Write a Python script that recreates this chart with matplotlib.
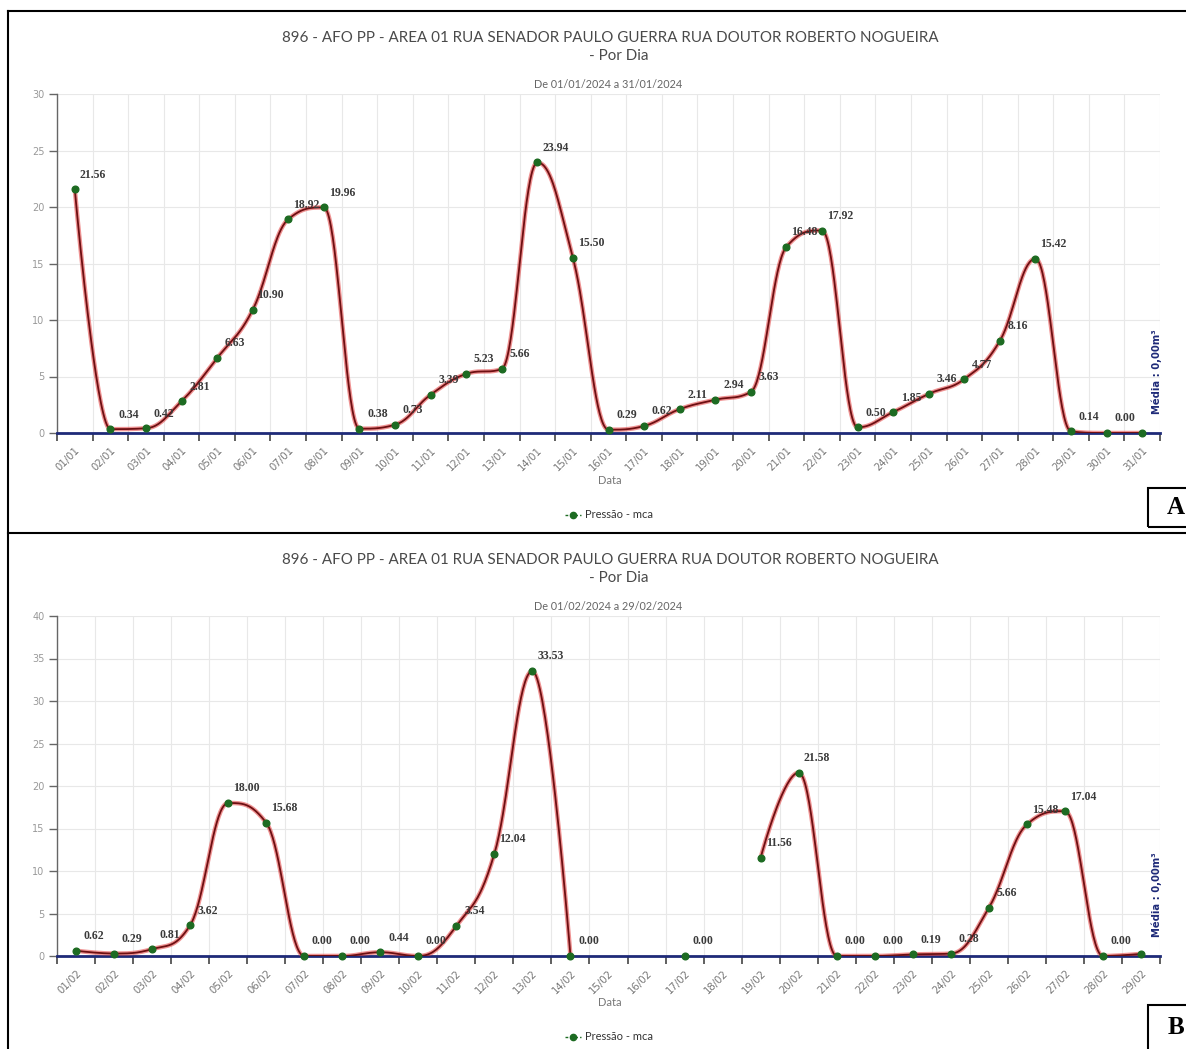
import numpy as np
import matplotlib.pyplot as plt
from matplotlib.patches import Rectangle
from matplotlib.lines import Line2D

W, H = 1186, 1049

title_text = "896 - AFO PP - AREA 01 RUA SENADOR PAULO GUERRA RUA DOUTOR ROBERTO NOGUEIRA"

jan_days = ["%02d/01" % d for d in range(1, 32)]
jan_pressure = [21.56, 0.34, 0.42, 2.81, 6.63, 10.90, 18.92, 19.96, 0.38, 0.73,
                3.39, 5.23, 5.66, 23.94, 15.50, 0.29, 0.62, 2.11, 2.94, 3.63,
                16.48, 17.92, 0.50, 1.85, 3.46, 4.77, 8.16, 15.42, 0.14, 0.00, 0.00]

feb_days = ["%02d/02" % d for d in range(1, 30)]
feb_pressure = [0.62, 0.29, 0.81, 3.62, 18.00, 15.68, 0.00, 0.00, 0.44, 0.00,
                3.54, 12.04, 33.53, 0.00, None, None, 0.00, None, 11.56, 21.58,
                0.00, 0.00, 0.19, 0.28, 5.66, 15.48, 17.04, 0.00, 0.25]

RED_DARK = "#6e0f12"
RED_GLOW = "#e23b3b"
GREEN = "#1d6b22"
NAVY = "#1e2a78"


def fx(px):
    return px / W


def fy(py):
    return 1 - py / H


def spline_run(xs, ys, n=40):
    # highcharts-like spline (smoothing 1.5)
    s = 1.5
    den = s + 1
    N = len(xs)
    left = [None] * N
    right = [None] * N
    for i in range(1, N - 1):
        lx, ly = xs[i - 1], ys[i - 1]
        x, y = xs[i], ys[i]
        nx, ny = xs[i + 1], ys[i + 1]
        lcx = (s * x + lx) / den
        lcy = (s * y + ly) / den
        rcx = (s * x + nx) / den
        rcy = (s * y + ny) / den
        corr = ((rcy - lcy) * (rcx - x)) / (rcx - lcx) + y - rcy
        lcy += corr
        rcy += corr
        if lcy > ly and lcy > y:
            lcy = max(ly, y)
            rcy = 2 * y - lcy
        elif lcy < ly and lcy < y:
            lcy = min(ly, y)
            rcy = 2 * y - lcy
        if rcy > ny and rcy > y:
            rcy = max(ny, y)
            lcy = 2 * y - rcy
        elif rcy < ny and rcy < y:
            rcy = min(ny, y)
            lcy = 2 * y - rcy
        left[i] = (lcx, lcy)
        right[i] = (rcx, rcy)
    px, py = [xs[0]], [ys[0]]
    t = np.linspace(0, 1, n)[1:]
    for i in range(1, N):
        p0 = (xs[i - 1], ys[i - 1])
        p3 = (xs[i], ys[i])
        p1 = right[i - 1] or p0
        p2 = left[i] or p3
        bx = (1 - t) ** 3 * p0[0] + 3 * (1 - t) ** 2 * t * p1[0] + 3 * (1 - t) * t ** 2 * p2[0] + t ** 3 * p3[0]
        by = (1 - t) ** 3 * p0[1] + 3 * (1 - t) ** 2 * t * p1[1] + 3 * (1 - t) * t ** 2 * p2[1] + t ** 3 * p3[1]
        px.extend(bx)
        py.extend(by)
    return px, py


def draw_panel(top, labels, values, ymax, subtitle):
    n = len(labels)
    # plot area in pixels: x 57..1160, y top..bottom
    x0, x1 = 57, 1160
    y_top = top + 94
    y_bot = top + 433 if ymax == 30 else top + 434
    ax = fig.add_axes([fx(x0), fy(y_bot), (x1 - x0) / W, (y_bot - y_top) / H])
    ax.set_xlim(0, n)
    ax.set_ylim(0, ymax)
    for sp in ["top", "right", "bottom"]:
        ax.spines[sp].set_visible(False)
    ax.spines["left"].set_color("#666666")
    ax.spines["left"].set_linewidth(1)

    ax.set_yticks(np.arange(0, ymax + 1, 5))
    ax.tick_params(axis="y", length=6, width=1, color="#666666",
                   labelsize=7, labelcolor="#999999", pad=3)
    ax.set_xticks(np.arange(0, n + 1))
    ax.set_xticklabels([])
    ax.tick_params(axis="x", which="major", length=6, width=1.2, color="#444444")
    ax.set_xticks(np.arange(n) + 0.5, minor=True)
    ax.set_xticklabels(labels, minor=True, rotation=45, ha="right", va="top",
                       rotation_mode="anchor", fontsize=7.3, color="#777777")
    ax.tick_params(axis="x", which="minor", length=0, pad=9)
    ax.grid(True, which="major", color="#e8e8e8", lw=0.8)
    ax.set_axisbelow(True)

    ax.axhline(0, color=NAVY, lw=2, zorder=3, clip_on=False)

    # split into runs of non-null values
    runs = []
    cur = []
    for i, v in enumerate(values):
        if v is None:
            if cur:
                runs.append(cur)
            cur = []
        else:
            cur.append(i)
    if cur:
        runs.append(cur)
    for r in runs:
        xs = [i + 0.5 for i in r]
        ys = [values[i] for i in r]
        if len(r) > 1:
            sx, sy = spline_run(xs, ys)
            ax.plot(sx, sy, color=RED_GLOW, lw=3.2, alpha=0.55, zorder=4,
                    solid_capstyle="round")
            ax.plot(sx, sy, color=RED_DARK, lw=1.3, zorder=5)
        ax.plot(xs, ys, "o", color=GREEN, ms=4.8, zorder=6, clip_on=False)

    # data labels (last one hidden behind the plot line label)
    for i, v in enumerate(values[:-1]):
        if v is None:
            continue
        ax.annotate("%.2f" % v, (i + 0.5, v), xytext=(13, 10.5),
                    textcoords="offset points", ha="center", va="center",
                    fontsize=8.5, fontweight="bold", color="#3a3a3a",
                    family=["Liberation Serif", "DejaVu Serif"], zorder=7)

    ax.annotate("Média : 0,00m³", (1, 0), xycoords="axes fraction",
                xytext=(-2, 14), textcoords="offset points", rotation=90,
                ha="center", va="bottom", fontsize=7.2, fontweight="bold",
                color=NAVY)

    fam = ["Lato", "DejaVu Sans"]
    fig.text(fx(610), fy(top + 38), title_text, ha="center", va="center",
             fontsize=10.9, color="#4a4a4a", family=fam)
    fig.text(fx(619), fy(top + 56), "- Por Dia", ha="center", va="center",
             fontsize=10.9, color="#4a4a4a", family=fam)
    fig.text(fx(608), fy(top + 84), subtitle, ha="center", va="center",
             fontsize=7.8, color="#666666", family=fam)
    fig.text(fx(610), fy(top + 480), "Data", ha="center", va="center",
             fontsize=8, color="#777777", family=fam)
    # legend
    fig.add_artist(Line2D([fx(565), fx(581)], [fy(top + 515)] * 2, color=GREEN,
                          lw=1, ls=(0, (2, 1.5)), transform=fig.transFigure))
    fig.add_artist(Line2D([fx(573)], [fy(top + 515)], marker="o", ms=4.5,
                          color=GREEN, transform=fig.transFigure))
    fig.text(fx(585), fy(top + 515), "Pressão - mca", ha="left", va="center",
             fontsize=8, color="#333333", family=fam)
    return ax


fig = plt.figure(figsize=(W / 100, H / 100), dpi=100)
fig.patch.set_facecolor("white")

draw_panel(0, jan_days, jan_pressure, 30, "De 01/01/2024 a 31/01/2024")
draw_panel(522, feb_days, feb_pressure, 40, "De 01/02/2024 a 29/02/2024")

# frame lines
frame = dict(color="black", lw=1.5, transform=fig.transFigure)
fig.add_artist(Line2D([fx(8), fx(8)], [fy(11), fy(1049)], **frame))
fig.add_artist(Line2D([fx(8), fx(1186)], [fy(11), fy(11)], **frame))
fig.add_artist(Line2D([fx(8), fx(1186)], [fy(533), fy(533)], **frame))

# letter boxes
for (bx, by0, by1, letter) in [(1148, 488, 527, "A"), (1148, 1005, 1052, "B")]:
    fig.add_artist(Rectangle((fx(bx), fy(by1)), (W + 5 - bx) / W, (by1 - by0) / H,
                             transform=fig.transFigure, fill=False,
                             edgecolor="black", lw=1.5))
    fig.text(fx(1176), fy((by0 + min(by1, 1049)) / 2), letter, ha="center",
             va="center", fontsize=18, fontweight="bold",
             family=["Liberation Serif", "DejaVu Serif"])

fig.savefig("out.png", dpi=100, facecolor="white")
